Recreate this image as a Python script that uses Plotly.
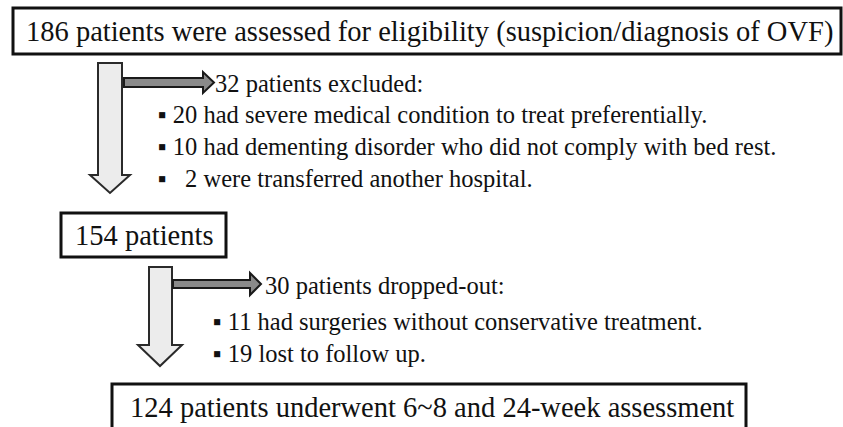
import plotly.graph_objects as go

# Flow counts
assessed = 186
excluded = 32
excluded_reasons_n = [20, 10, 2]
excluded_reasons = ["had severe medical condition to treat preferentially.",
                    "had dementing disorder who did not comply with bed rest.",
                    "were transferred another hospital."]
enrolled = 154
dropped = 30
dropped_reasons_n = [11, 19]
dropped_reasons = ["had surgeries without conservative treatment.",
                   "lost to follow up."]
completed = 124

W, H = 843, 427
FONT = "Liberation Serif"
BOX_SIZE = 28.5
TXT_SIZE = 24.5

fig = go.Figure()
shapes = []
ann = []

def box(x0, y0, x1, y1):
    shapes.append(dict(type="rect", x0=x0, y0=y0, x1=x1, y1=y1,
                       line=dict(color="#111", width=3), fillcolor="white", layer="below"))

def text(x, y, s, size, anchor="left"):
    ann.append(dict(x=x, y=y, text=s, showarrow=False, xanchor=anchor, yanchor="middle",
                    font=dict(family=FONT, size=size, color="#111")))

def down_arrow(sx0, sx1, ytop, yhead, hx0, hx1, ytip):
    cx = (hx0 + hx1) / 2
    p = (f"M{sx0},{ytop} L{sx1},{ytop} L{sx1},{yhead} L{hx1},{yhead} L{cx},{ytip} "
         f"L{hx0},{yhead} L{sx0},{yhead} Z")
    shapes.append(dict(type="path", path=p, fillcolor="#ececec",
                       line=dict(color="#2a2a2a", width=2)))

def right_arrow(x0, xhead, xtip, sy0, sy1, hy0, hy1):
    cy = (hy0 + hy1) / 2
    p = (f"M{x0},{sy0} L{xhead},{sy0} L{xhead},{hy0} L{xtip},{cy} L{xhead},{hy1} "
         f"L{xhead},{sy1} L{x0},{sy1} Z")
    shapes.append(dict(type="path", path=p, fillcolor="#8a8a8a",
                       line=dict(color="#1a1a1a", width=2)))

# Boxes
box(13, 8, 841, 54)
text(429, 32, f"{assessed} patients were assessed for eligibility (suspicion/diagnosis of OVF)", BOX_SIZE, "center")
box(61, 213, 226, 257)
text(144, 235, f"{enrolled} patients", BOX_SIZE, "center")
box(112, 384, 746, 440)
text(432, 407, f"{completed} patients underwent 6~8 and 24-week assessment", BOX_SIZE, "center")

# Arrows
down_arrow(98, 122, 63, 175, 90, 130, 193)
right_arrow(124, 203, 214, 78, 87, 72, 93)
down_arrow(149, 172, 267, 345, 138, 182, 366)
right_arrow(173, 250, 261, 280, 288, 273, 295)

# Exclusion text
text(213, 83, f"{excluded} patients excluded:", TXT_SIZE)
ys1 = [114, 146, 178]
for n, r, y in zip(excluded_reasons_n, excluded_reasons, ys1):
    pad = "\u2002" if n < 10 else ""
    text(156, y, f"\u25aa {pad}{n} {r}", TXT_SIZE)

text(263, 285, f"{dropped} patients dropped-out:", TXT_SIZE)
ys2 = [321, 353]
for n, r, y in zip(dropped_reasons_n, dropped_reasons, ys2):
    text(211, y, f"\u25aa {n} {r}", TXT_SIZE)

fig.update_layout(
    width=W, height=H, margin=dict(l=0, r=0, t=0, b=0),
    paper_bgcolor="white", plot_bgcolor="white",
    xaxis=dict(range=[0, W], visible=False, fixedrange=True),
    yaxis=dict(range=[H, 0], visible=False, fixedrange=True),
    shapes=shapes, annotations=ann, showlegend=False,
)
fig.write_html("out.html", config={"displayModeBar": False},
               post_script="document.body.style.margin='0';document.body.style.overflow='hidden';")
